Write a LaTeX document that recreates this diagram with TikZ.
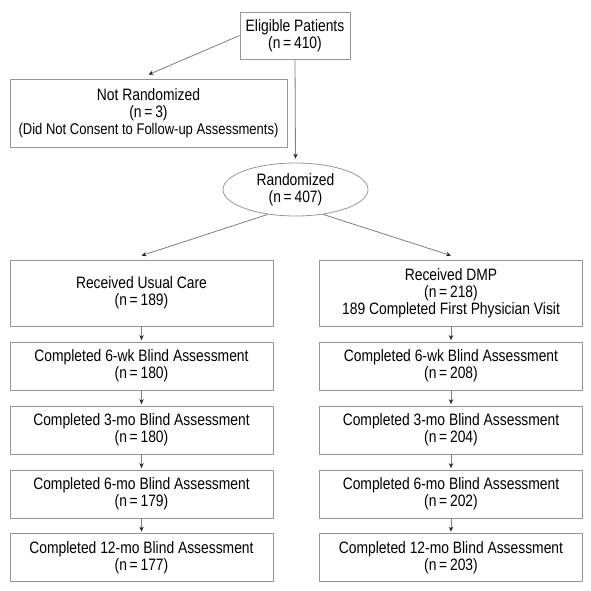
\documentclass[tikz,border=0pt]{standalone}
\usepackage{fontspec}
\setmainfont{Liberation Sans}[FakeStretch=0.84]
\usetikzlibrary{shapes.geometric,arrows.meta}
\definecolor{boxline}{RGB}{150,150,150}
\definecolor{flowline}{RGB}{125,125,125}
\definecolor{tipcol}{RGB}{40,40,40}

\begin{document}
\begin{tikzpicture}[x=1pt, y=-1pt,
    stagebox/.style={draw=boxline, line width=0.8pt, align=center, inner sep=0pt,
      minimum width=263pt, minimum height=48pt,
      font=\fontsize{16.5}{17}\selectfont},
    flow/.style={draw=flowline, line width=0.8pt,
      -{Stealth[length=5pt, width=4.5pt, color=tipcol]}}]
        \useasboundingbox (0,0) rectangle (590,591);
        % Enrollment
        \node[stagebox, minimum width=110pt, minimum height=47pt] (elig) at (295,35.5)
          {Eligible Patients\\(n\,=\,410)};
        \node[stagebox, minimum width=277pt, minimum height=68pt] (notrand) at (148.5,113)
          {Not Randomized\\(n\,=\,3)\\{\fontsize{15.5}{17}\selectfont(Did Not Consent to Follow-up Assessments)}};
        \node[stagebox, ellipse, minimum width=145pt, minimum height=53pt] (rand) at (295.5,189.5)
          {Randomized\\(n\,=\,407)};
        % Usual care arm
        \node[stagebox, minimum height=66pt] (uc0) at (141.5,293) {Received Usual Care\\(n\,=\,189)};
        \node[stagebox] (uc1) at (141.5,366) {Completed 6-wk Blind Assessment\\(n\,=\,180)};
        \node[stagebox] (uc2) at (141.5,430) {Completed 3-mo Blind Assessment\\(n\,=\,180)};
        \node[stagebox] (uc3) at (141.5,494) {Completed 6-mo Blind Assessment\\(n\,=\,179)};
        \node[stagebox] (uc4) at (141.5,557.5) {Completed 12-mo Blind Assessment\\(n\,=\,177)};
        % DMP arm
        \node[stagebox, minimum height=66pt] (dmp0) at (451,293)
          {Received DMP\\(n\,=\,218)\\189 Completed First Physician Visit};
        \node[stagebox] (dmp1) at (451,366) {Completed 6-wk Blind Assessment\\(n\,=\,208)};
        \node[stagebox] (dmp2) at (451,430) {Completed 3-mo Blind Assessment\\(n\,=\,204)};
        \node[stagebox] (dmp3) at (451,494) {Completed 6-mo Blind Assessment\\(n\,=\,202)};
        \node[stagebox] (dmp4) at (451,557.5) {Completed 12-mo Blind Assessment\\(n\,=\,203)};
        % Connectors
        \draw[flow] (elig.west) -- ([yshift=4pt]notrand.north);
        \draw[flow] (elig.south) -- ([yshift=4pt]rand.north);
        \draw[flow] (rand.222) -- ([yshift=4pt]uc0.north);
        \draw[flow] (rand.318) -- ([yshift=4pt]dmp0.north);
        \draw[flow, shorten >=1.5pt] (uc0.south) -- (uc1.north);
        \draw[flow, shorten >=1.5pt] (uc1.south) -- (uc2.north);
        \draw[flow, shorten >=1.5pt] (uc2.south) -- (uc3.north);
        \draw[flow, shorten >=1.5pt] (uc3.south) -- (uc4.north);
        \draw[flow, shorten >=1.5pt] (dmp0.south) -- (dmp1.north);
        \draw[flow, shorten >=1.5pt] (dmp1.south) -- (dmp2.north);
        \draw[flow, shorten >=1.5pt] (dmp2.south) -- (dmp3.north);
        \draw[flow, shorten >=1.5pt] (dmp3.south) -- (dmp4.north);
      \end{tikzpicture}
\end{document}
